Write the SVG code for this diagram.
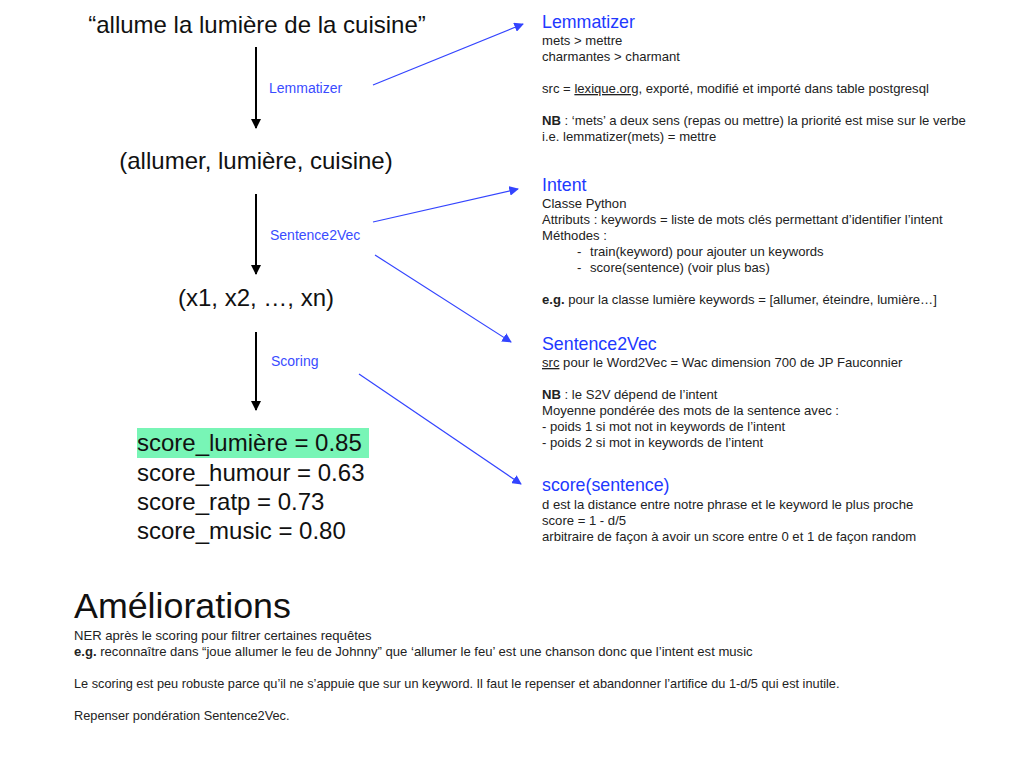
<svg xmlns="http://www.w3.org/2000/svg" width="1024" height="768" viewBox="0 0 1024 768">
<style>
text{font-family:"Liberation Sans",Arial,sans-serif;fill:#111}
.big{font-size:24px}
.sc{font-size:24px}
.lbl{font-size:14px;fill:#3a4cff}
.ttl{font-size:17.8px;fill:#2138ff}
.body{font-size:13.1px;fill:#222}
.cond{font-size:12.75px;fill:#222}
.amel{font-size:35.8px}
.bold{font-weight:bold}
.blk{stroke:#000;stroke-width:2}
.blue{stroke:#3344ff;stroke-width:1.2}
</style>
<defs>
<marker id="ab" viewBox="0 0 10 10" refX="9" refY="5" markerWidth="5" markerHeight="5" orient="auto" markerUnits="strokeWidth"><path d="M0,0 L10,5 L0,10 z" fill="#000"/></marker>
<marker id="au" viewBox="0 0 10 10" refX="9" refY="5" markerWidth="8" markerHeight="8" orient="auto" markerUnits="strokeWidth"><path d="M0,0 L10,5 L0,10 z" fill="#3344ff"/></marker>
</defs>
<rect width="1024" height="768" fill="#fff"/>
<g id="connectors">
<line class="blk" x1="256" y1="47" x2="256" y2="128" marker-end="url(#ab)"/>
<line class="blk" x1="256" y1="194" x2="256" y2="274" marker-end="url(#ab)"/>
<line class="blk" x1="256" y1="332" x2="256" y2="410" marker-end="url(#ab)"/>
<line class="blue" x1="373" y1="85" x2="523" y2="24" marker-end="url(#au)"/>
<line class="blue" x1="373" y1="222" x2="518" y2="189" marker-end="url(#au)"/>
<line class="blue" x1="375" y1="255" x2="511" y2="342" marker-end="url(#au)"/>
<line class="blue" x1="359" y1="374" x2="521" y2="484" marker-end="url(#au)"/>
<text class="lbl" x="269" y="93">Lemmatizer</text>
<text class="lbl" x="270" y="240">Sentence2Vec</text>
<text class="lbl" x="271" y="366">Scoring</text>
</g>
<g id="sentence"><text class="big" x="257" y="33" text-anchor="middle" font-size="24.2">“allume la lumière de la cuisine”</text></g>
<g id="lemmas"><text class="big" x="256" y="169" text-anchor="middle">(allumer, lumière, cuisine)</text></g>
<g id="vector"><text class="big" x="256" y="306" text-anchor="middle">(x1, x2, …, xn)</text></g>
<g id="scores">
<rect x="137" y="428" width="232" height="30" fill="#78f5b6"/>
<text class="sc" x="137" y="451">score_lumière = 0.85</text>
<text class="sc" x="137" y="481">score_humour = 0.63</text>
<text class="sc" x="137" y="510">score_ratp = 0.73</text>
<text class="sc" x="137" y="539">score_music = 0.80</text>
</g>
<g id="note-lemmatizer">
<text class="ttl" x="542" y="28">Lemmatizer</text>
<text class="body" x="542" y="45">mets &gt; mettre</text>
<text class="body" x="542" y="61">charmantes &gt; charmant</text>
<text class="body" x="542" y="93">src = <tspan text-decoration="underline">lexique.org</tspan>, exporté, modifié et importé dans table postgresql</text>
<text class="body" x="542" y="125"><tspan class="bold">NB</tspan> : ‘mets’ a deux sens (repas ou mettre) la priorité est mise sur le verbe</text>
<text class="body" x="542" y="141">i.e. lemmatizer(mets) = mettre</text>
</g>
<g id="note-intent">
<text class="ttl" x="542" y="191">Intent</text>
<text class="body" x="542" y="208">Classe Python</text>
<text class="body" x="542" y="224">Attributs : keywords = liste de mots clés permettant d’identifier l’intent</text>
<text class="body" x="542" y="240">Méthodes :</text>
<text class="body" x="577" y="256">-</text><text class="body" x="590" y="256">train(keyword) pour ajouter un keywords</text>
<text class="body" x="577" y="272">-</text><text class="body" x="590" y="272">score(sentence) (voir plus bas)</text>
<text class="body" x="542" y="304"><tspan class="bold">e.g.</tspan> pour la classe lumière keywords = [allumer, éteindre, lumière…]</text>
</g>
<g id="note-s2v">
<text class="ttl" x="542" y="350">Sentence2Vec</text>
<text class="body" x="542" y="367"><tspan text-decoration="underline">src</tspan> pour le Word2Vec = Wac dimension 700 de JP Fauconnier</text>
<text class="body" x="542" y="399"><tspan class="bold">NB</tspan> : le S2V dépend de l’intent</text>
<text class="body" x="542" y="415">Moyenne pondérée des mots de la sentence avec :</text>
<text class="body" x="542" y="431">- poids 1 si mot not in keywords de l’intent</text>
<text class="body" x="542" y="447">- poids 2 si mot in keywords de l’intent</text>
</g>
<g id="note-score">
<text class="ttl" x="542" y="491">score(sentence)</text>
<text class="body" x="542" y="509">d est la distance entre notre phrase et le keyword le plus proche</text>
<text class="body" x="542" y="525">score = 1 - d/5</text>
<text class="body" x="542" y="541">arbitraire de façon à avoir un score entre 0 et 1 de façon random</text>
</g>
<g id="ameliorations">
<text class="amel" x="74" y="618">Améliorations</text>
<text class="body" x="74" y="640">NER après le scoring pour filtrer certaines requêtes</text>
<text class="body" x="74" y="656"><tspan class="bold">e.g.</tspan> reconnaître dans “joue allumer le feu de Johnny” que ‘allumer le feu’ est une chanson donc que l’intent est music</text>
<text class="cond" x="74" y="688">Le scoring est peu robuste parce qu’il ne s’appuie que sur un keyword. Il faut le repenser et abandonner l’artifice du 1-d/5 qui est inutile.</text>
<text class="cond" x="74" y="720">Repenser pondération Sentence2Vec.</text>
</g>
</svg>
